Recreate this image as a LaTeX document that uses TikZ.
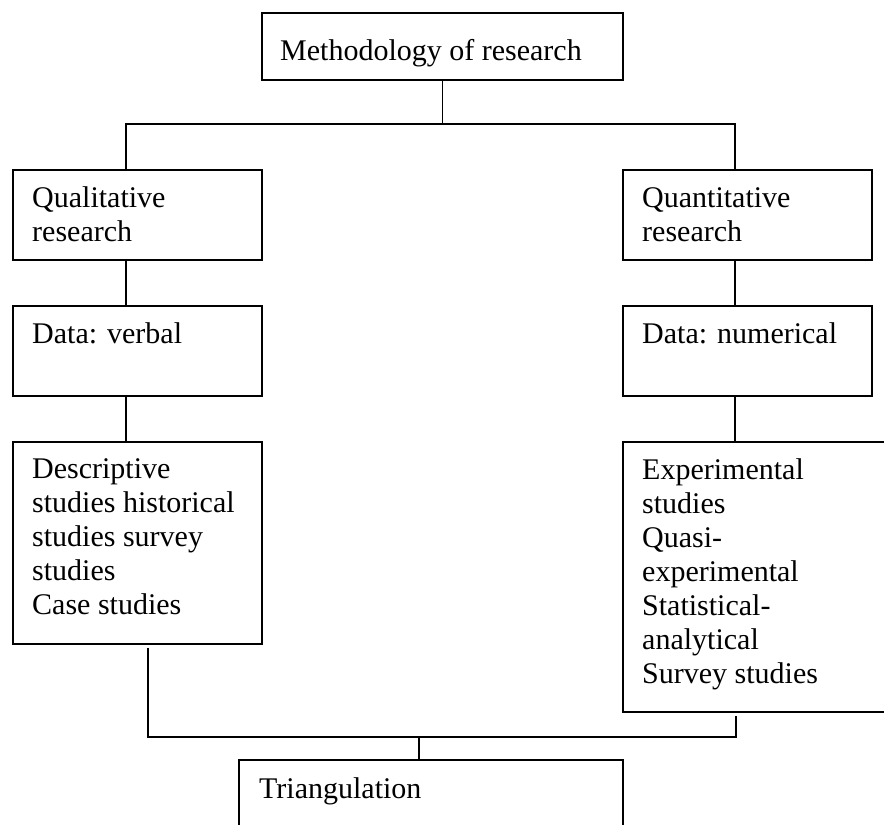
\documentclass[tikz,border=0pt]{standalone}
\usepackage{fontspec}
\setmainfont{Liberation Serif}
\newcommand\mlines[1]{\vtop{\halign{##\hfil\cr#1\crcr}}}
\begin{document}
\begin{tikzpicture}[x=1pt,y=-1pt,
  box/.style={draw=black,line width=1.6pt,inner sep=0pt,anchor=north west},
  txt/.style={inner sep=0pt,anchor=base west,font=\fontsize{30}{34}\selectfont},
  conn/.style={draw=black,line width=1.6pt}]
\useasboundingbox (0,0) rectangle (884,825);
\clip (0,0) rectangle (884,825);
\fill[white] (0,0) rectangle (884,825);
% boxes
\node[box,minimum width=361pt,minimum height=67pt] (top) at (261,12) {};
\node[box,minimum width=249pt,minimum height=90pt] (qual) at (12,169) {};
\node[box,minimum width=249pt,minimum height=90pt] (quan) at (622,169) {};
\node[box,minimum width=249pt,minimum height=90pt] (dv) at (12,305) {};
\node[box,minimum width=249pt,minimum height=90pt] (dn) at (622,305) {};
\node[box,minimum width=249pt,minimum height=202pt] (desc) at (12,441) {};
\node[box,minimum width=300pt,minimum height=270pt] (expt) at (622,441) {};
\node[box,minimum width=384pt,minimum height=100pt] (tri) at (238,759) {};
% texts
\node[txt] (topt) at (280,60) {Methodology of research};
\node[txt] (qualt) at (32,207) {\mlines{Qualitative\cr research}};
\node[txt] (quant) at (642,207) {\mlines{Quantitative\cr research}};
\node[txt] (dvt) at (32,343) {Data: verbal};
\node[txt] (dnt) at (642,343) {Data: numerical};
\node[txt] (desct) at (32,478) {\mlines{Descriptive\cr studies historical\cr studies survey\cr studies\cr Case studies}};
\node[txt] (exptt) at (642,479) {\mlines{Experimental\cr studies\cr Quasi-\cr experimental\cr Statistical-\cr analytical\cr Survey studies}};
\node[txt] (trit) at (259,798) {Triangulation};
% junctions
\coordinate (jl) at (126,124);
\coordinate (jr) at (735,124);
\coordinate (bl) at (148,737);
\coordinate (br) at (736,737);
\coordinate (bt) at (419,737);
% connectors
\draw[conn] (top.south) -- (top.south |- jl);
\draw[conn] (jl |- qual.north) -- (jl) -- (jr) -- (jr |- quan.north);
\draw[conn] (qual.south -| jl) -- (dv.north -| jl);
\draw[conn] (dv.south -| jl) -- (desc.north -| jl);
\draw[conn] (quan.south -| jr) -- (dn.north -| jr);
\draw[conn] (dn.south -| jr) -- (expt.north -| jr);
\draw[conn] ([yshift=-3pt]desc.south -| bl) -- (bl) -- (br) -- ([yshift=-3pt]expt.south -| br);
\draw[conn] (bt) -- (tri.north -| bt);
\end{tikzpicture}
\end{document}
